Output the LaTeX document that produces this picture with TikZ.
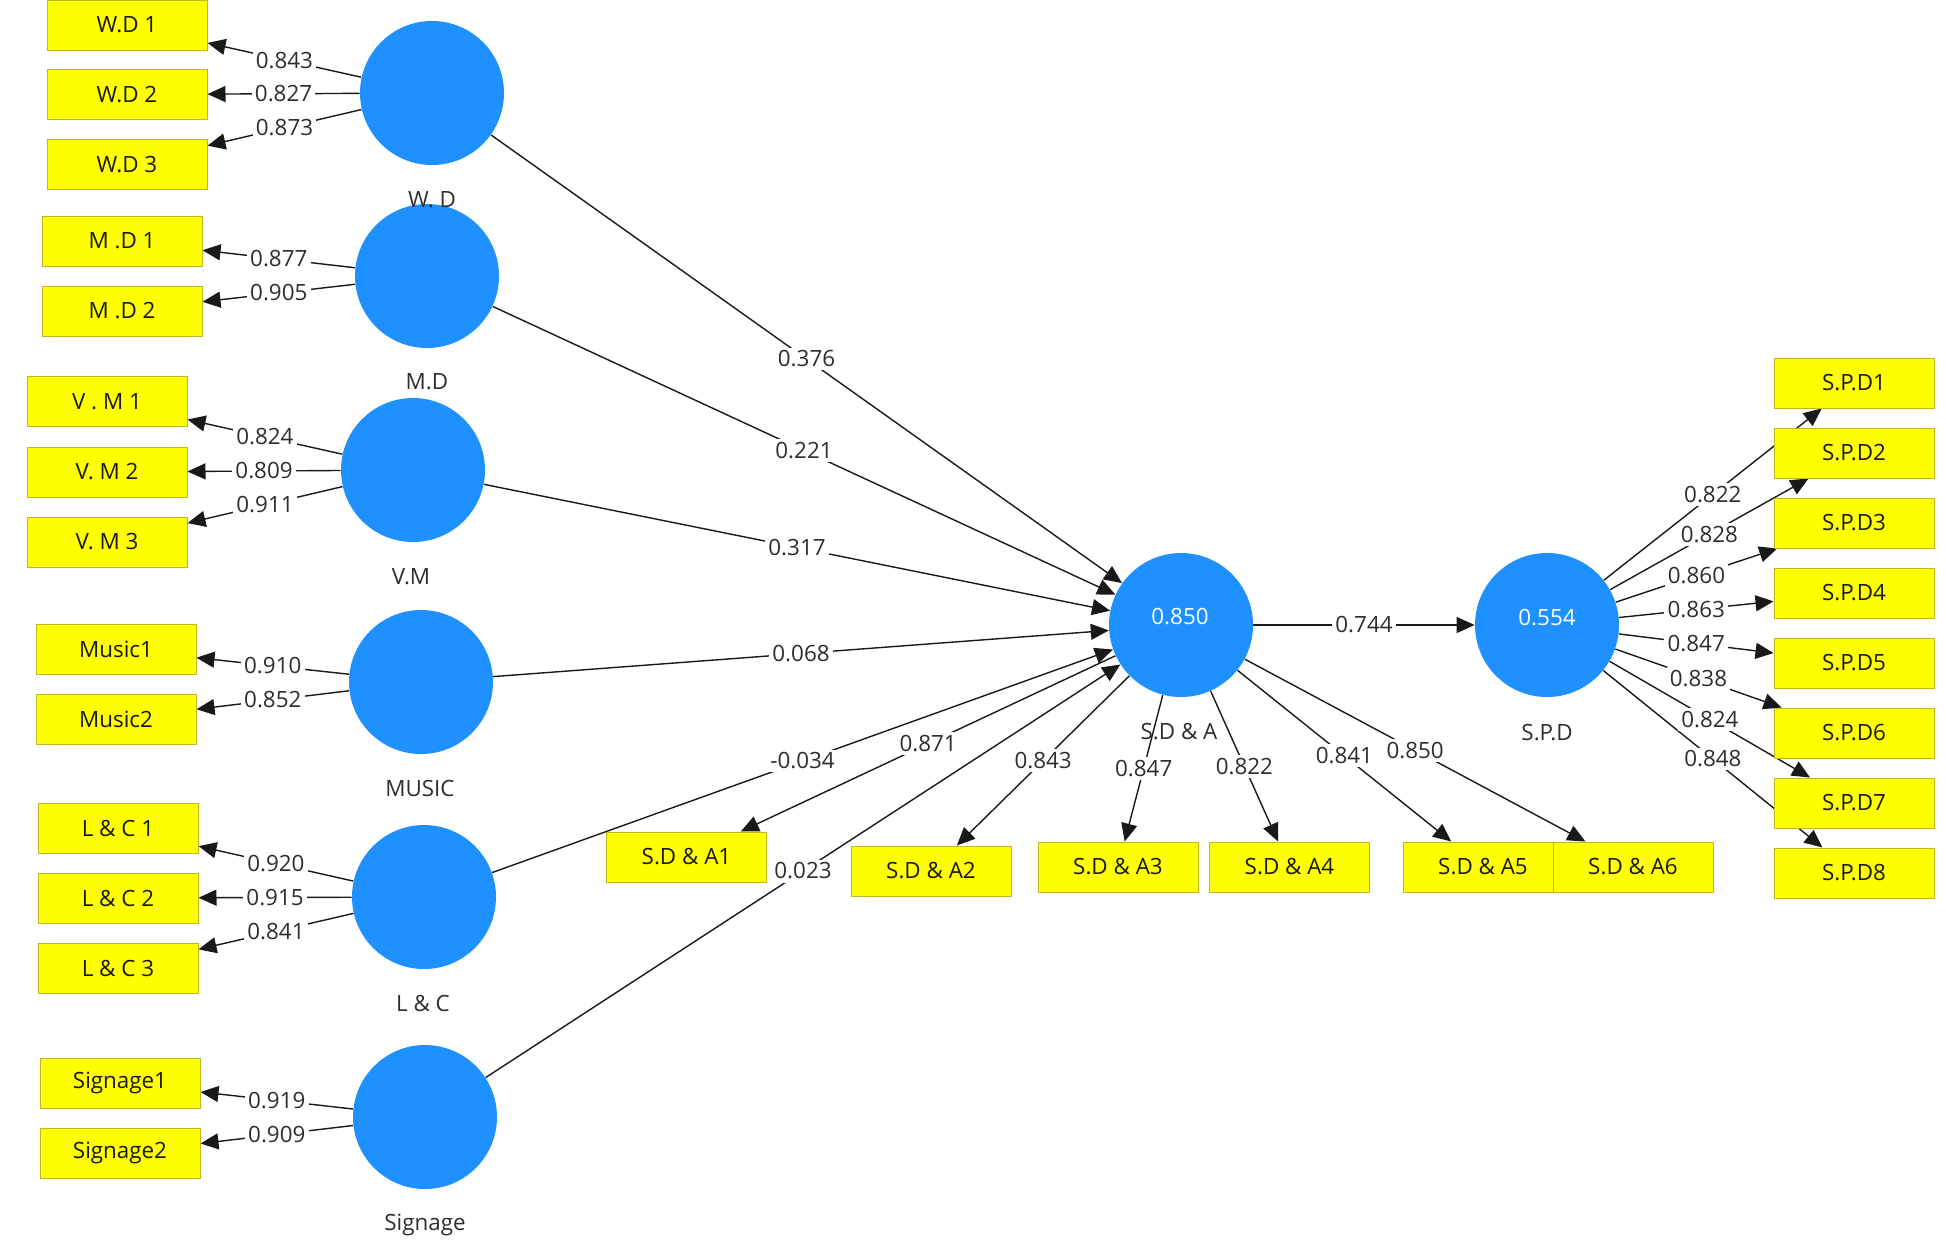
\documentclass[tikz,border=0pt]{standalone}
\usepackage{fontspec}
\setmainfont{Open Sans}
\usetikzlibrary{arrows.meta}
\pgfdeclarelayer{canvas}
\pgfdeclarelayer{bg}
\pgfsetlayers{canvas,bg,main}
\definecolor{lvblue}{RGB}{30,144,255}
\definecolor{indyel}{RGB}{255,255,0}
\definecolor{indbrd}{RGB}{185,185,40}
\definecolor{txtc}{RGB}{45,45,50}
\begin{document}
\begin{tikzpicture}[x=0.5pt,y=-0.5pt,
  font=\fontsize{11.2}{13}\selectfont,
  lv/.style={circle,fill=lvblue,minimum size=72pt,inner sep=0pt},
  lvval/.style={text=white,inner sep=1pt},
  ind/.style={rectangle,fill=indyel,draw=indbrd,line width=0.5pt,minimum width=80pt,minimum height=25pt,inner sep=0pt,text=black!90},
  lvname/.style={text=txtc,inner sep=1pt},
  ld/.style={draw=black!90,line width=0.7pt,-{Triangle[length=9pt,width=8pt]}},
  lbl/.style={fill=white,inner sep=1.6pt,text=txtc}
]
\begin{pgfonlayer}{canvas}
\fill[white] (0,0) rectangle (1946,1249);
\end{pgfonlayer}
\useasboundingbox (0,0) rectangle (1946,1249);

% latent variables
\node[lv] (wd) at (432,93) {};
\node[lv] (md) at (427,276) {};
\node[lv] (vm) at (413,470) {};
\node[lv] (mu) at (421,682) {};
\node[lv] (lc) at (424,897) {};
\node[lv] (sg) at (425,1117) {};
\node[lv] (sda) at (1181,625) {};
\node[lv] (spd) at (1547,625) {};
\node[lvval] (sdav) at (1180,617) {0.850};
\node[lvval] (spdv) at (1547,618) {0.554};

% latent names
\node[lvname] (wdn) at (432,200) {W. D};
\node[lvname] (mdn) at (427,382) {M.D};
\node[lvname] (vmn) at (411,577) {V.M};
\node[lvname] (mun) at (420,788) {MUSIC};
\node[lvname] (lcn) at (423,1003) {L \& C};
\node[lvname] (sgn) at (425,1225) {Signage};
\node[lvname] (sdan) at (1179,732) {S.D \& A};
\node[lvname] (spdn) at (1547,733) {S.P.D};

% indicators left
\node[ind] (wd1) at (127,25) {W.D 1};
\node[ind] (wd2) at (127,94.5) {W.D 2};
\node[ind] (wd3) at (127,164.5) {W.D 3};
\node[ind] (md1) at (122,241) {M .D 1};
\node[ind] (md2) at (122,311) {M .D 2};
\node[ind] (vm1) at (107,401.5) {V . M 1};
\node[ind] (vm2) at (107,472) {V. M 2};
\node[ind] (vm3) at (107,542) {V. M 3};
\node[ind] (mu1) at (116,649) {Music1};
\node[ind] (mu2) at (116,719) {Music2};
\node[ind] (lc1) at (118,828) {L \& C 1};
\node[ind] (lc2) at (118,898) {L \& C 2};
\node[ind] (lc3) at (118,968) {L \& C 3};
\node[ind] (sg1) at (120,1083) {Signage1};
\node[ind] (sg2) at (120,1153) {Signage2};

% indicators S.D & A
\node[ind] (a1) at (686.5,857) {S.D \& A1};
\node[ind] (a2) at (931,871) {S.D \& A2};
\node[ind] (a3) at (1118,867) {S.D \& A3};
\node[ind] (a4) at (1289.5,867) {S.D \& A4};
\node[ind] (a5) at (1483,867) {S.D \& A5};
\node[ind] (a6) at (1633,867) {S.D \& A6};

% indicators S.P.D
\node[ind] (p1) at (1854,383) {S.P.D1};
\node[ind] (p2) at (1854,453) {S.P.D2};
\node[ind] (p3) at (1854,523) {S.P.D3};
\node[ind] (p4) at (1854,593) {S.P.D4};
\node[ind] (p5) at (1854,663) {S.P.D5};
\node[ind] (p6) at (1854,733) {S.P.D6};
\node[ind] (p7) at (1854,803) {S.P.D7};
\node[ind] (p8) at (1854,873) {S.P.D8};

\begin{pgfonlayer}{bg}
% outer loadings left
\draw[ld] (wd) -- coordinate[midway] (c1) (wd1);
\draw[ld] (wd) -- coordinate[midway] (c2) (wd2);
\draw[ld] (wd) -- coordinate[midway] (c3) (wd3);
\draw[ld] (md) -- coordinate[midway] (c4) (md1);
\draw[ld] (md) -- coordinate[midway] (c5) (md2);
\draw[ld] (vm) -- coordinate[midway] (c6) (vm1);
\draw[ld] (vm) -- coordinate[midway] (c7) (vm2);
\draw[ld] (vm) -- coordinate[midway] (c8) (vm3);
\draw[ld] (mu) -- coordinate[midway] (c9) (mu1);
\draw[ld] (mu) -- coordinate[midway] (c10) (mu2);
\draw[ld] (lc) -- coordinate[midway] (c11) (lc1);
\draw[ld] (lc) -- coordinate[midway] (c12) (lc2);
\draw[ld] (lc) -- coordinate[midway] (c13) (lc3);
\draw[ld] (sg) -- coordinate[midway] (c14) (sg1);
\draw[ld] (sg) -- coordinate[midway] (c15) (sg2);
% structural paths
\draw[ld] (wd) -- coordinate[midway] (s1) (sda);
\draw[ld] (md) -- coordinate[midway] (s2) (sda);
\draw[ld] (vm) -- coordinate[midway] (s3) (sda);
\draw[ld] (mu) -- coordinate[midway] (s4) (sda);
\draw[ld] (lc) -- coordinate[midway] (s5) (sda);
\draw[ld] (sg) -- coordinate[midway] (s6) (sda);
\draw[ld] (sda) -- coordinate[midway] (s7) (spd);
% S.D & A loadings
\draw[ld] (sda) -- coordinate[midway] (d1) (a1);
\draw[ld] (sda) -- coordinate[midway] (d2) (a2);
\draw[ld] (sda) -- coordinate[midway] (d3) (a3);
\draw[ld] (sda) -- coordinate[midway] (d4) (a4);
\draw[ld] (sda) -- coordinate[midway] (d5) (a5);
\draw[ld] (sda) -- coordinate[midway] (d6) (a6);
% S.P.D loadings
\draw[ld] (spd) -- coordinate[midway] (e1) (p1);
\draw[ld] (spd) -- coordinate[midway] (e2) (p2);
\draw[ld] (spd) -- coordinate[midway] (e3) (p3);
\draw[ld] (spd) -- coordinate[midway] (e4) (p4);
\draw[ld] (spd) -- coordinate[midway] (e5) (p5);
\draw[ld] (spd) -- coordinate[midway] (e6) (p6);
\draw[ld] (spd) -- coordinate[midway] (e7) (p7);
\draw[ld] (spd) -- coordinate[midway] (e8) (p8);
\end{pgfonlayer}

% labels
\node[lbl] (lc1t) at (c1) {0.843};
\node[lbl] (lc2t) at (c2) {0.827};
\node[lbl] (lc3t) at (c3) {0.873};
\node[lbl] (lc4t) at (c4) {0.877};
\node[lbl] (lc5t) at (c5) {0.905};
\node[lbl] (lc6t) at (c6) {0.824};
\node[lbl] (lc7t) at (c7) {0.809};
\node[lbl] (lc8t) at (c8) {0.911};
\node[lbl] (lc9t) at (c9) {0.910};
\node[lbl] (lc10t) at (c10) {0.852};
\node[lbl] (lc11t) at (c11) {0.920};
\node[lbl] (lc12t) at (c12) {0.915};
\node[lbl] (lc13t) at (c13) {0.841};
\node[lbl] (lc14t) at (c14) {0.919};
\node[lbl] (lc15t) at (c15) {0.909};
\node[lbl] (ls1t) at (s1) {0.376};
\node[lbl] (ls2t) at (s2) {0.221};
\node[lbl] (ls3t) at (s3) {0.317};
\node[lbl] (ls4t) at (s4) {0.068};
\node[lbl] (ls5t) at (s5) {-0.034};
\node[lbl] (ls6t) at (s6) {0.023};
\node[lbl] (ls7t) at (s7) {0.744};
\node[lbl] (ld1t) at (d1) {0.871};
\node[lbl] (ld2t) at (d2) {0.843};
\node[lbl] (ld3t) at (d3) {0.847};
\node[lbl] (ld4t) at (d4) {0.822};
\node[lbl] (ld5t) at (d5) {0.841};
\node[lbl] (ld6t) at (d6) {0.850};
\node[lbl] (le1t) at (e1) {0.822};
\node[lbl] (le2t) at (e2) {0.828};
\node[lbl] (le3t) at (e3) {0.860};
\node[lbl] (le4t) at (e4) {0.863};
\node[lbl] (le5t) at (e5) {0.847};
\node[lbl] (le6t) at (e6) {0.838};
\node[lbl] (le7t) at (e7) {0.824};
\node[lbl] (le8t) at (e8) {0.848};
\end{tikzpicture}
\end{document}
